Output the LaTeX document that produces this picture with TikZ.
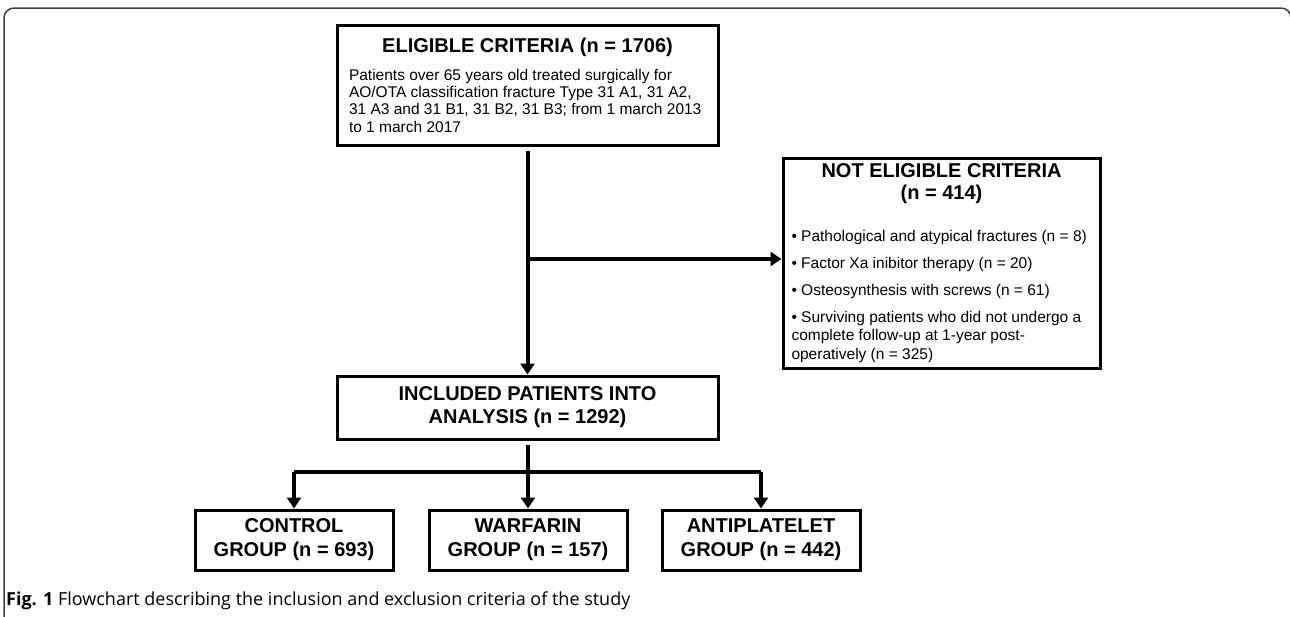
\documentclass[tikz,border=0pt]{standalone}
\usepackage{fontspec}
\setmainfont{Liberation Sans}
\newfontfamily\capfont{Open Sans}
\usetikzlibrary{arrows.meta}
\newcommand\hdfont{\fontsize{20}{22}\selectfont\bfseries}
\newcommand\bodyfont{\fontsize{15.5}{17.3}\selectfont}

\begin{document}
\begin{tikzpicture}[x=1pt,y=-1pt,
  box/.style={draw,line width=3pt,inner sep=0pt,line join=miter},
  flow/.style={line width=4pt},
  arr/.style={flow,-{Triangle[width=14pt,length=11pt]}},
  group/.style={box,minimum width=198,minimum height=60,align=center,font=\fontsize{20}{24}\selectfont\bfseries}]
  \useasboundingbox (0,0) rectangle (1290,616);
  \begin{scope}
    \clip (0,0) rectangle (1290,616);
    \draw[black!75,line width=1.5pt,rounded corners=10pt] (4,8) rectangle (1291,628);
  \end{scope}
  \node[box,minimum width=381,minimum height=120,text width=357,align=flush left] (elig) at (527.5,85)
    {\spaceskip=0pt\xspaceskip=0pt
     {\centering\hdfont ELIGIBLE CRITERIA (n = 1706)\par}\vspace{11pt}
     \bodyfont Patients over 65 years old treated surgically for\\
     AO/OTA classification fracture Type 31 A1, 31 A2,\\
     31 A3 and 31 B1, 31 B2, 31 B3; from 1 march 2013\\
     to 1 march 2017\par};
  \node[box,minimum width=317,minimum height=210,text width=300,align=flush left] (notelig) at (941.5,263)
    {\spaceskip=0pt\xspaceskip=0pt
     {\centering\hdfont NOT ELIGIBLE CRITERIA\\(n = 414)\par}\vspace{15pt}
     \fontsize{15.5}{18.5}\selectfont\setlength{\parskip}{8.5pt}%
     • Pathological and atypical fractures (n = 8)\par
     • Factor Xa inibitor therapy (n = 20)\par
     • Osteosynthesis with screws (n = 61)\par
     • Surviving patients who did not undergo a\\
     complete follow-up at 1-year post-\\
     operatively (n = 325)\par};
  \node[box,minimum width=381,minimum height=63,align=center,font=\fontsize{20}{23}\selectfont\bfseries] (incl) at (527.5,407.5)
    {INCLUDED PATIENTS INTO\\ANALYSIS (n = 1292)};
  \node[group] (ctrl) at (294,540) {CONTROL\\GROUP (n = 693)};
  \node[group] (warf) at (528,540) {WARFARIN\\GROUP (n = 157)};
  \node[group] (anti) at (761,540) {ANTIPLATELET\\GROUP (n = 442)};
  \coordinate (split) at (527.5,259);
  \coordinate (fork) at (527.5,472);
  \draw[arr,shorten <=4pt] (elig.south) -- (incl.north);
  \draw[arr] (split) -- (split -| notelig.west);
  \draw[flow,shorten <=4pt] (incl.south) -- (fork);
  \draw[flow,line join=miter] (ctrl.north |- fork) -- (anti.north |- fork);
  \draw[arr] (ctrl.north |- fork) -- (ctrl.north);
  \draw[arr] (warf.north |- fork) -- (warf.north);
  \draw[arr] (anti.north |- fork) -- (anti.north);
  \node[anchor=west,inner sep=0pt,font=\capfont\fontsize{18}{22}\selectfont] (caption) at (6,601)
    {\textbf{Fig. 1} Flowchart describing the inclusion and exclusion criteria of the study};
\end{tikzpicture}
\end{document}
